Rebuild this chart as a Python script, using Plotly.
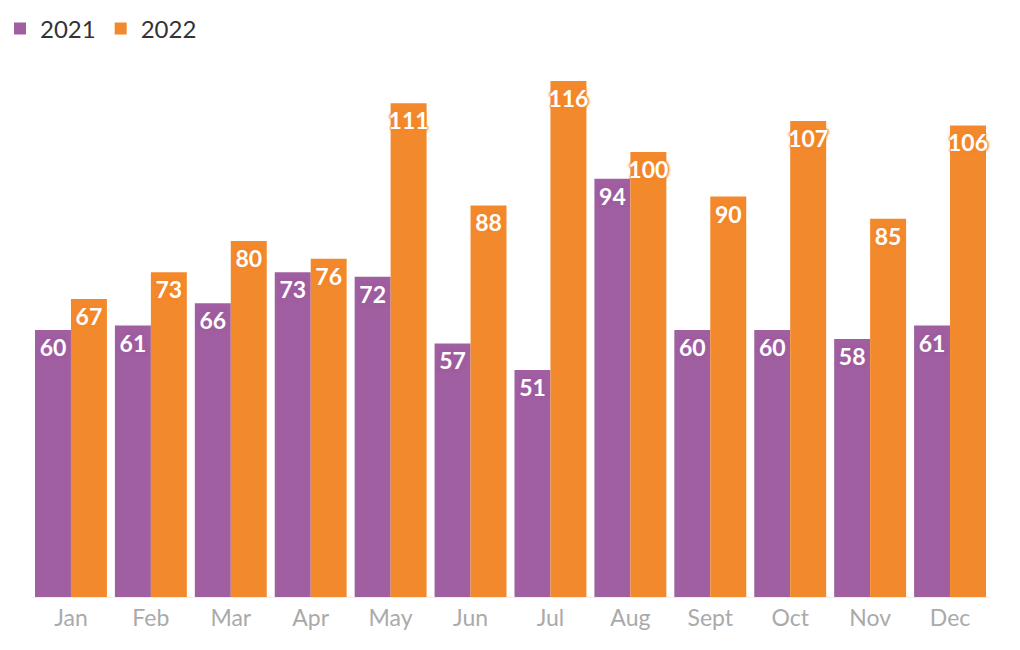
import plotly.graph_objects as go

months = ["Jan", "Feb", "Mar", "Apr", "May", "Jun", "Jul", "Aug", "Sept", "Oct", "Nov", "Dec"]
values_2021 = [60, 61, 66, 73, 72, 57, 51, 94, 60, 60, 58, 61]
values_2022 = [67, 73, 80, 76, 111, 88, 116, 100, 90, 107, 85, 106]

purple = "#A05FA0"
orange = "#F3892D"

def halo(c):
    return f"0 0 2px {c}, 0 0 2px {c}, 0 0 3px {c}, 0 0 3px {c}, 0 0 4px {c}"

fig = go.Figure()
for name, vals, col in [("2021", values_2021, purple), ("2022", values_2022, orange)]:
    fig.add_trace(go.Bar(
        name=name, x=months, y=vals, marker=dict(color=col, line=dict(width=0)),
        text=[str(v) for v in vals], textposition="inside", insidetextanchor="end",
        textangle=0, constraintext="none", cliponaxis=False,
        textfont=dict(family="Lato", size=23, color="white", weight="bold", shadow=halo(col)),
        hoverinfo="skip",
    ))

fig.update_layout(
    width=1020, height=650, barmode="group", bargap=0.1, bargroupgap=0,
    plot_bgcolor="white", paper_bgcolor="white",
    margin=dict(l=31, r=30, t=64, b=53),
    showlegend=True,
    legend=dict(orientation="h", x=0.0, y=0.99, xref="container", yref="container",
                xanchor="left", yanchor="top",
                font=dict(family="Lato", size=24, color="#333333"), itemwidth=30,
                traceorder="normal", bgcolor="rgba(0,0,0,0)"),
    xaxis=dict(showgrid=False, showline=True, linecolor="#EEEEEE", linewidth=1, ticks="",
               tickfont=dict(family="Lato", size=23, color="#AAAAAA")),
    yaxis=dict(range=[0, 119.8], showgrid=False, showticklabels=False, zeroline=False, showline=False),
)

fig.write_html("out.html")
